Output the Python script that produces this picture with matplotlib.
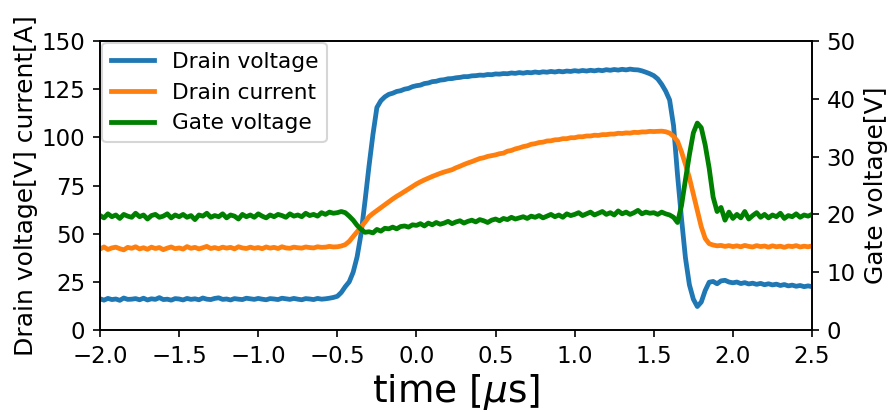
import numpy as np
import matplotlib
matplotlib.use("Agg")
from matplotlib import pyplot as plt

# sample grid, 25 ns step from -2 us to 2.5 us
time_us = np.round(np.arange(181) * 0.025 - 2.0, 3)

drain_voltage = [
    16.2, 15.5, 16.4, 15.8, 16.1, 15.4, 16.6, 15.9, 16.0, 16.3,
    15.7, 16.5, 15.6, 16.2, 15.9, 16.8, 15.8, 16.0, 15.5, 16.3,
    16.1, 15.6, 16.4, 15.9, 16.2, 15.7, 16.6, 16.0, 15.8, 16.4,
    16.7, 15.9, 16.1, 15.6, 16.3, 16.0, 15.8, 16.5, 16.2, 15.9,
    16.4, 16.0, 15.7, 16.3, 16.1, 15.8, 16.5, 16.2, 15.9, 16.4,
    16.0, 15.7, 16.3, 16.1, 15.8, 16.4, 16.0, 16.2, 16.5, 16.9,
    17.5, 19.5, 22.5, 25.0, 30.0, 38.0, 50.0, 67.0, 85.0, 101.5,
    115.5, 119.0, 121.0, 122.3, 122.9, 123.8, 124.2, 125.0, 125.4, 126.3,
    126.8, 127.1, 127.9, 128.2, 128.9, 129.1, 129.7, 129.9, 130.4, 130.5,
    130.9, 131.1, 131.5, 131.5, 131.9, 132.0, 132.3, 132.2, 132.6, 132.5,
    132.9, 132.8, 133.1, 133.0, 133.4, 133.2, 133.6, 133.3, 133.7, 133.5,
    133.9, 133.6, 134.0, 133.8, 134.2, 133.9, 134.3, 134.0, 134.4, 134.2,
    134.6, 134.3, 134.7, 134.4, 134.8, 134.5, 134.9, 134.6, 135.1, 134.8,
    135.2, 134.9, 135.3, 135.0, 135.4, 135.1, 135.0, 134.5, 133.8, 133.0,
    132.0, 130.3, 127.5, 124.0, 119.4, 106.0, 80.5, 58.0, 37.5, 23.5,
    16.0, 12.2, 14.5, 20.5, 24.8, 25.2, 24.0, 25.5, 25.8, 24.9,
    24.5, 24.9, 24.1, 24.6, 23.9, 24.3, 23.7, 24.2, 23.5, 24.0,
    23.4, 23.8, 23.1, 23.6, 22.9, 23.3, 22.7, 23.1, 22.5, 22.9, 22.5,
]

drain_current = [
    42.0, 43.1, 41.8, 42.6, 43.0, 42.2, 41.6, 42.9, 42.4, 43.2,
    42.1, 42.7, 41.9, 43.0, 42.3, 42.8, 41.7, 42.5, 43.1, 42.2,
    42.6, 42.0, 43.3, 42.4, 42.9, 42.1, 42.7, 43.4, 42.3, 42.8,
    42.2, 43.0, 42.5, 42.9, 42.1, 43.2, 42.6, 42.3, 43.0, 42.4,
    42.8, 42.2, 43.1, 42.5, 42.9, 42.3, 43.2, 42.6, 42.4, 43.0,
    42.7, 42.5, 43.1, 42.8, 42.6, 43.2, 42.9, 43.0, 43.4, 43.1,
    43.2, 43.6, 44.3, 46.0, 48.5, 51.0, 53.5, 56.0, 58.8, 60.5,
    62.0, 63.5, 65.0, 66.5, 68.0, 69.4, 70.6, 71.9, 73.2, 74.5,
    75.8, 76.9, 77.9, 78.8, 79.7, 80.5, 81.3, 82.0, 82.6, 83.2,
    84.2, 85.0, 85.9, 86.7, 87.4, 88.2, 89.0, 89.4, 90.1, 90.5,
    90.9, 91.5, 91.8, 92.8, 93.2, 94.0, 94.5, 95.2, 95.6, 96.4,
    96.7, 97.3, 97.5, 98.1, 98.2, 98.7, 98.8, 99.3, 99.3, 99.8,
    99.8, 100.3, 100.3, 100.7, 100.7, 101.1, 101.0, 101.4, 101.4, 101.7,
    101.7, 102.1, 102.0, 102.3, 102.2, 102.6, 102.5, 102.8, 102.8, 103.1,
    103.0, 103.1, 103.2, 102.9, 102.2, 100.5, 98.0, 92.5, 86.0, 79.0,
    70.5, 62.0, 53.6, 47.5, 44.8, 44.1, 43.7, 43.9, 43.4, 43.8,
    43.3, 43.7, 43.2, 43.9, 43.4, 43.1, 43.8, 43.3, 43.6, 43.0,
    43.7, 43.2, 43.5, 42.9, 43.6, 43.3, 43.8, 43.1, 43.5, 43.2, 43.6,
]

gate_voltage = [
    19.8, 19.4, 20.1, 19.6, 19.9, 19.3, 20.0, 19.7, 19.5, 20.2,
    19.6, 19.9, 19.2, 19.8, 20.0, 19.5, 19.7, 20.1, 19.4, 19.9,
    19.6, 20.0, 19.5, 19.8, 19.1, 19.9, 19.7, 20.2, 19.5, 19.8,
    19.6, 20.1, 19.4, 19.9, 19.7, 19.2, 20.0, 19.6, 19.9, 19.5,
    20.1, 19.7, 19.4, 19.9, 19.6, 20.0, 19.8, 19.5, 20.1, 19.7,
    19.9, 19.6, 20.2, 19.8, 20.0, 19.7, 20.3, 20.0, 20.4, 20.2,
    20.3, 20.5, 20.3, 19.7, 19.0, 18.1, 17.4, 16.9, 17.0, 16.8,
    17.4, 17.1, 17.6, 17.5, 17.8, 17.5, 17.9, 18.0, 17.8, 18.2,
    18.1, 18.4, 18.0, 18.5, 18.2, 18.6, 18.3, 18.5, 18.8, 18.4,
    18.7, 18.9, 18.5, 18.8, 19.0, 18.7, 19.1, 18.9, 18.6, 19.0,
    19.2, 18.9, 19.3, 19.1, 19.5, 19.2, 19.4, 19.6, 19.3, 19.7,
    19.5, 19.8, 19.4, 19.7, 20.0, 19.6, 19.9, 19.5, 20.1, 19.8,
    20.0, 20.3, 19.8, 20.1, 20.4, 19.9, 20.2, 20.5, 20.0, 20.3,
    19.9, 20.6, 20.1, 20.4, 20.0, 20.3, 20.7, 20.1, 20.4, 20.2,
    20.3, 20.0, 20.4, 20.1, 19.9, 19.5, 18.6, 21.5, 26.0, 30.3,
    34.1, 35.8, 35.0, 32.0, 28.0, 23.0, 20.5, 21.2, 19.0, 20.4,
    19.3, 20.0, 19.4, 20.5, 19.2, 19.8, 20.3, 19.5, 20.0, 19.4,
    19.9, 19.6, 20.2, 19.3, 19.8, 19.6, 20.1, 19.5, 19.9, 19.7, 20.0,
]

fig = plt.figure(figsize=(889 / 150, 412 / 150), dpi=150)
fig.subplots_adjust(left=0.1125, right=0.9134, top=0.9005, bottom=0.199)
ax1 = fig.add_subplot(111)
ax2 = ax1.twinx()

l1, = ax1.plot(time_us, drain_voltage, color="tab:blue", lw=2.3, label="Drain voltage")
l2, = ax1.plot(time_us, drain_current, color="tab:orange", lw=2.3, label="Drain current")
l3, = ax2.plot(time_us, gate_voltage, color="green", lw=2.3, label="Gate voltage")

ax1.set_xlim(-2.0, 2.5)
ax1.set_ylim(0, 150)
ax2.set_ylim(0, 50)
ax1.set_yticks(np.arange(0, 151, 25))
ax2.set_yticks(np.arange(0, 51, 10))
ax1.set_xticks(np.arange(-2.0, 2.51, 0.5))
ax1.tick_params(labelsize=11)
ax2.tick_params(labelsize=11)

ax1.set_xlabel("time [$\\mu$s]", fontsize=18, labelpad=2)
ax1.set_ylabel("Drain voltage[V] current[A]", fontsize=12, labelpad=2)
ax2.set_ylabel("Gate voltage[V]", fontsize=12)

ax1.legend(handles=[l1, l2, l3], loc="upper left", borderaxespad=0.1, fontsize=10.4)

fig.savefig("out.png", dpi=150)
